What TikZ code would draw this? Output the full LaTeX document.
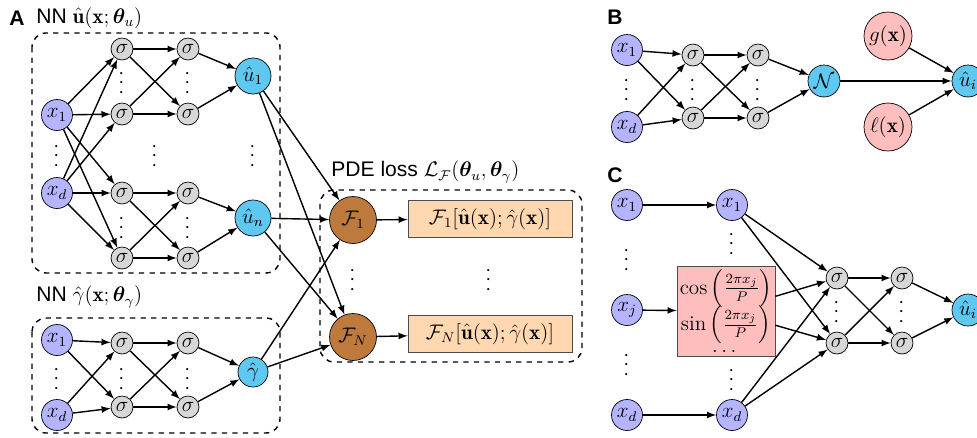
\documentclass[tikz,border=0pt,12pt]{standalone}
\usepackage{amsmath}
\usepackage{bm}
\usepackage{fontspec}
\setsansfont{Liberation Sans}
\usetikzlibrary{arrows}

\definecolor{inblue}{RGB}{180,180,255}
\definecolor{outcyan}{RGB}{95,200,240}
\definecolor{sgray}{RGB}{215,215,215}
\definecolor{fbrown}{RGB}{190,122,60}
\definecolor{lossorange}{RGB}{255,216,178}
\definecolor{featpink}{RGB}{255,190,190}

\begin{document}
\begin{tikzpicture}[x=0.02cm,y=-0.02cm,
  inp/.style={circle,draw,fill=inblue,minimum size=0.62cm,inner sep=0pt},
  act/.style={circle,draw,fill=sgray,minimum size=0.44cm,inner sep=0pt},
  outp/.style={circle,draw,fill=outcyan,minimum size=0.64cm,inner sep=0pt},
  opr/.style={circle,draw,fill=fbrown,minimum size=0.94cm,inner sep=0pt},
  bcnode/.style={circle,draw,fill=featpink,minimum size=0.96cm,inner sep=0pt},
  lossbox/.style={draw=black!70,fill=lossorange,minimum width=3.28cm,minimum height=0.74cm,inner sep=2pt},
  vdot/.style={inner sep=0pt,rotate=90},
  conn/.style={-latex,thick},
  group/.style={draw,thick,dashed,rounded corners=8pt},
  panel/.style={font=\sffamily\bfseries},
  title/.style={font=\sffamily,anchor=west,inner sep=0pt}]

\clip (0,0) rectangle (977,437);

%%% A: network for u
\node[panel] (pa) at (17,18) {A};
\node[title] (ttu) at (36,18) {NN $\hat{\mathbf{u}}(\mathbf{x};\bm{\theta}_u)$};
\draw[group] (32,33) rectangle (280,273);

\node[inp] (ux1) at (57,115) {$x_1$};
\node[inp] (uxd) at (57,193) {$x_d$};
\foreach \y [count=\i] in {49,114,193,258} {
  \node[act] (ua\i) at (122,\y) {$\sigma$};
  \node[act] (ub\i) at (188,\y) {$\sigma$};
}
\node[outp,minimum size=0.72cm] (uu1) at (253,76)  {$\hat{u}_1$};
\node[outp,minimum size=0.72cm] (uun) at (253,218) {$\hat{u}_n$};

\foreach \s in {ux1,uxd} {
  \foreach \i in {1,...,4} {
    \draw[conn] (\s) -- (ua\i);
  }
}
\foreach \i/\j in {1/1,1/2,2/1,2/2,3/3,3/4,4/3,4/4} {
  \draw[conn] (ua\i) -- (ub\j);
}
\foreach \i/\o in {1/uu1,2/uu1,3/uun,4/uun} {
  \draw[conn] (ub\i) -- (\o);
}

\foreach \x/\y in {57/154,122/81,122/226,188/81,188/226,155/154,253/154} {
  \node[vdot] at (\x,\y) {$\cdots$};
}

%%% A: network for gamma
\node[title] (ttg) at (36,297) {NN $\hat{\gamma}(\mathbf{x};\bm{\theta}_\gamma)$};
\draw[group] (32,318) rectangle (280,433);

\node[inp] (gx1) at (57,340) {$x_1$};
\node[inp] (gxd) at (57,415) {$x_d$};
\foreach \y [count=\i] in {343,407} {
  \node[act] (ga\i) at (122,\y) {$\sigma$};
  \node[act] (gb\i) at (188,\y) {$\sigma$};
}
\node[outp,minimum size=0.6cm] (gout) at (253,372) {$\hat{\gamma}$};

\foreach \i in {1,2} {
  \draw[conn] (gx1) -- (ga\i);
  \draw[conn] (gxd) -- (ga\i);
  \draw[conn] (gb\i) -- (gout);
  \foreach \j in {1,2} {
    \draw[conn] (ga\i) -- (gb\j);
  }
}

\foreach \x in {57,122,188} {
  \node[vdot] at (\x,377) {$\cdots$};
}

%%% A: PDE loss
\node[title] (ttl) at (331,172) {PDE loss $\mathcal{L}_{\mathcal{F}}(\bm{\theta}_u,\bm{\theta}_\gamma)$};
\draw[group] (320,190) rectangle (582,362);

\node[opr] (f1) at (353,220) {$\mathcal{F}_1$};
\node[opr] (fn) at (353,337) {$\mathcal{F}_N$};
\node[lossbox] (r1) at (490,219) {$\mathcal{F}_1[\hat{\mathbf{u}}(\mathbf{x});\hat{\gamma}(\mathbf{x})]$};
\node[lossbox] (rn) at (490,334) {$\mathcal{F}_N[\hat{\mathbf{u}}(\mathbf{x});\hat{\gamma}(\mathbf{x})]$};

\foreach \s in {uu1,uun,gout} {
  \draw[conn] (\s) -- (f1);
  \draw[conn] (\s) -- (fn);
}
\draw[conn] (f1) -- (r1);
\draw[conn] (fn) -- (rn);

\node[vdot] at (353,278) {$\cdots$};
\node[vdot] at (489,278) {$\cdots$};

%%% B: hard boundary conditions
\node[panel] (pb) at (615,17) {B};

\node[inp] (bx1) at (627,50)  {$x_1$};
\node[inp] (bxd) at (627,127) {$x_d$};
\foreach \y [count=\i] in {55,118} {
  \node[act] (ba\i) at (693,\y) {$\sigma$};
  \node[act] (bb\i) at (758,\y) {$\sigma$};
}
\node[outp] (bn) at (824,81) {$\mathcal{N}$};
\node[bcnode] (bg) at (888,36)  {$g(\mathbf{x})$};
\node[bcnode] (bl) at (888,127) {$\ell(\mathbf{x})$};
\node[outp] (bu) at (968,81) {$\hat{u}_i$};

\foreach \i in {1,2} {
  \draw[conn] (bx1) -- (ba\i);
  \draw[conn] (bxd) -- (ba\i);
  \draw[conn] (bb\i) -- (bn);
  \foreach \j in {1,2} {
    \draw[conn] (ba\i) -- (bb\j);
  }
}
\draw[conn] (bn) -- (bu);
\draw[conn] (bg) -- (bu);
\draw[conn] (bl) -- (bu);

\foreach \x in {627,693,758} {
  \node[vdot] at (\x,88) {$\cdots$};
}

%%% C: periodic features
\node[panel] (pc) at (615,175) {C};

\node[inp] (cx1) at (627,205) {$x_1$};
\node[inp] (cxj) at (627,310) {$x_j$};
\node[inp] (cxd) at (627,415) {$x_d$};
\node[inp] (cy1) at (732,205) {$x_1$};
\node[inp] (cyd) at (732,415) {$x_d$};
\node[draw=black!70,fill=featpink,minimum width=1.96cm,minimum height=1.8cm,
      inner sep=1pt,align=center] (feat) at (726,311)
  {$\cos\left(\frac{2\pi x_j}{P}\right)$\\[-2pt]
   $\sin\left(\frac{2\pi x_j}{P}\right)$\\[-2pt]
   $\dots$};
\foreach \y [count=\i] in {278,343} {
  \node[act] (ca\i) at (837,\y) {$\sigma$};
  \node[act] (cb\i) at (902,\y) {$\sigma$};
}
\node[outp] (cu) at (968,310) {$\hat{u}_i$};

\draw[conn] (cx1) -- (cy1);
\draw[conn] (cxj) -- (feat);
\draw[conn] (cxd) -- (cyd);
\foreach \s in {cy1,feat,cyd} {
  \draw[conn] (\s) -- (ca1);
  \draw[conn] (\s) -- (ca2);
}
\foreach \i in {1,2} {
  \draw[conn] (cb\i) -- (cu);
  \foreach \j in {1,2} {
    \draw[conn] (ca\i) -- (cb\j);
  }
}

\foreach \x/\y in {627/258,627/363,732/242,732/378,837/310,902/310} {
  \node[vdot] at (\x,\y) {$\cdots$};
}

\end{tikzpicture}
\end{document}
